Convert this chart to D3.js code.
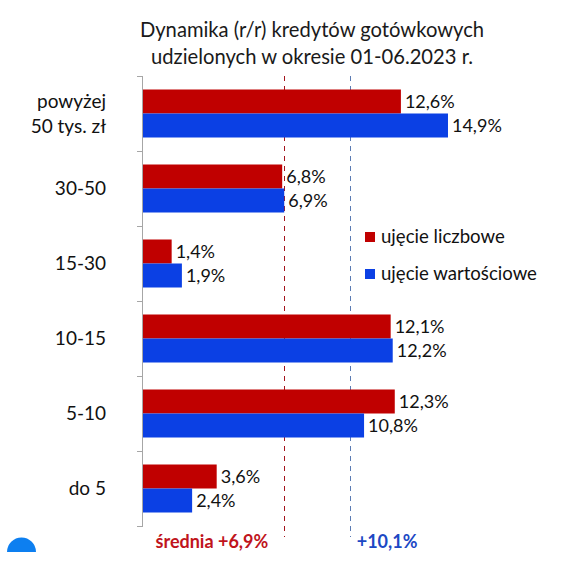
<!DOCTYPE html>
<html>
<head>
<meta charset="utf-8">
<script src="https://cdn.jsdelivr.net/npm/d3@7"></script>
<style>
  body { margin: 0; background: #fff; }
  svg { display: block; font-family: Lato, "Open Sans", sans-serif; }
</style>
</head>
<body>
<div id="chart"></div>
<script>
// data
var categories = ["powyżej|50 tys. zł", "30-50", "15-30", "10-15", "5-10", "do 5"];
var countValues = [12.6, 6.8, 1.4, 12.1, 12.3, 3.6];   // ujęcie liczbowe
var amountValues = [14.9, 6.9, 1.9, 12.2, 10.8, 2.4];  // ujęcie wartościowe
var seriesNames = ["ujęcie liczbowe", "ujęcie wartościowe"];
var averages = [6.9, 10.1];
var averageLabels = ["średnia +6,9%", "+10,1%"];
var titleLines = ["Dynamika (r/r) kredytów gotówkowych", "udzielonych w okresie 01-06.2023 r."];

var width = 580,
    height = 571,
    barColours = ["#c00000", "#0b40e4"],
    lineColours = ["#a3141c", "#5b7bb3"],
    labelColours = ["#c0141c", "#1c48c4"];

var svg = d3.select("#chart").append("svg")
    .attr("width", width)
    .attr("height", height);

var x = d3.scaleLinear().domain([0, 16]).range([143, 470.5]);

var y = d3.scaleBand().domain(categories).range([76, 526]);

var sub = d3.scaleBand().domain([0, 1]).range([0, y.bandwidth()]).paddingOuter(0.5625);

var fmt = function(v) { return d3.format(".1f")(v).replace(".", ",") + "%"; };

// title
svg.append("text")
    .attr("x", 312)
    .attr("y", 37)
    .attr("text-anchor", "middle")
    .attr("font-size", 20.2)
    .attr("fill", "#1a1a1a")
    .selectAll("tspan")
    .data(titleLines)
    .enter().append("tspan")
    .attr("x", 312)
    .attr("dy", function(d, i) { return i ? 26.5 : 0; })
    .text(function(d) { return d; });

// average lines
svg.selectAll(".avg")
    .data(averages)
    .enter().append("line")
    .attr("x1", function(d) { return Math.round(x(d)) + 0.5; })
    .attr("x2", function(d) { return Math.round(x(d)) + 0.5; })
    .attr("y1", 76)
    .attr("y2", 537)
    .attr("stroke", function(d, i) { return lineColours[i]; })
    .attr("stroke-width", 1)
    .attr("stroke-dasharray", "5,5");

// bars
var groups = svg.selectAll(".grp")
    .data(categories)
    .enter().append("g")
    .attr("transform", function(d) { return "translate(0," + y(d) + ")"; });

[countValues, amountValues].forEach(function(values, s) {
  groups.append("rect")
      .attr("x", x(0))
      .attr("y", sub(s))
      .attr("width", function(d, i) { return x(values[i]) - x(0); })
      .attr("height", sub.bandwidth())
      .attr("fill", barColours[s]);

  groups.append("text")
      .attr("x", function(d, i) { return x(values[i]) + 4; })
      .attr("y", sub(s) + sub.bandwidth() / 2)
      .attr("dy", "0.36em")
      .attr("font-size", 18)
      .attr("fill", "#111")
      .text(function(d, i) { return fmt(values[i]); });
});

// category axis with ticks between categories
var axis = svg.append("g").attr("stroke", "#a6a6a6").attr("stroke-width", 1);
axis.append("line")
    .attr("x1", x(0) - 0.5).attr("x2", x(0) - 0.5)
    .attr("y1", 76).attr("y2", 526);
axis.selectAll(".tick")
    .data(categories.map(function(c) { return y(c); }).concat([y.range()[1]]))
    .enter().append("line")
    .attr("x1", x(0) - 6).attr("x2", x(0))
    .attr("y1", function(d) { return d + 0.5; })
    .attr("y2", function(d) { return d + 0.5; });

svg.selectAll(".cat")
    .data(categories)
    .enter().append("text")
    .attr("text-anchor", "end")
    .attr("font-size", 19)
    .attr("fill", "#111")
    .each(function(d) {
      var lines = d.split("|"),
          t = d3.select(this),
          cy = y(d) + y.bandwidth() / 2 - (lines.length - 1) * 12.5;
      lines.forEach(function(l, i) {
        t.append("tspan")
            .attr("x", 106)
            .attr("y", cy + i * 25)
            .attr("dy", "0.36em")
            .text(l);
      });
    });

// legend
var legend = svg.selectAll(".leg")
    .data(seriesNames)
    .enter().append("g")
    .attr("transform", function(d, i) { return "translate(365," + (232 + i * 37) + ")"; });
legend.append("rect")
    .attr("width", 10).attr("height", 10)
    .attr("fill", function(d, i) { return barColours[i]; });
legend.append("text")
    .attr("x", 16).attr("y", 10.5)
    .attr("font-size", 18.6)
    .attr("fill", "#111")
    .text(function(d) { return d; });

// average labels
svg.selectAll(".avglab")
    .data(averages)
    .enter().append("text")
    .attr("x", function(d, i) { return i ? x(d) + 7 : x(d) - 16; })
    .attr("y", 548)
    .attr("text-anchor", function(d, i) { return i ? "start" : "end"; })
    .attr("font-size", 18)
    .attr("font-weight", "bold")
    .attr("fill", function(d, i) { return labelColours[i]; })
    .text(function(d, i) { return averageLabels[i]; });

// blue half-circle in the corner
svg.append("clipPath").attr("id", "cut")
    .append("rect").attr("x", 0).attr("y", 530).attr("width", 60).attr("height", 22);
svg.append("circle")
    .attr("cx", 21.5).attr("cy", 552).attr("r", 14.5)
    .attr("fill", "#0d7ff0")
    .attr("clip-path", "url(#cut)");
</script>
</body>
</html>
